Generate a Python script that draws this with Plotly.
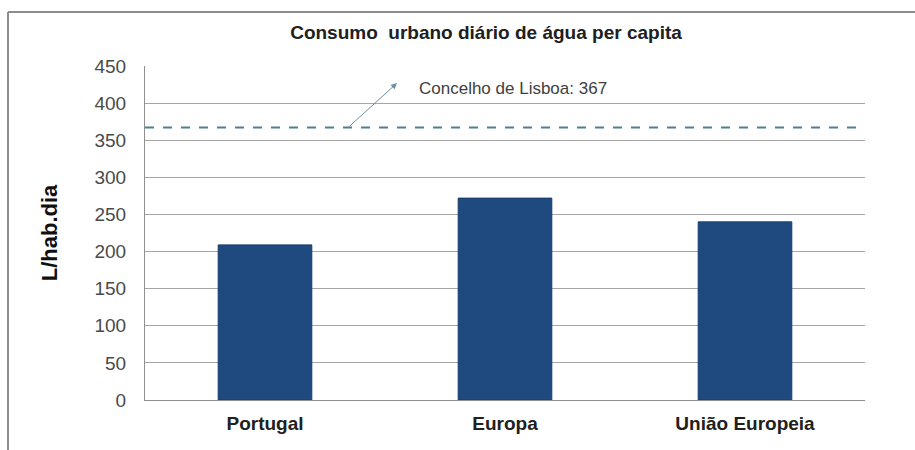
import plotly.graph_objects as go

# Daily urban water consumption per capita (L/hab.dia)
regioes = ["Portugal", "Europa", "União Europeia"]
consumo = [209, 272, 240]
lisboa = 367
y_ticks = [0, 50, 100, 150, 200, 250, 300, 350, 400, 450]

fig = go.Figure()
fig.add_trace(go.Bar(
    x=regioes, y=consumo,
    marker=dict(color="#1f4a80", line=dict(color="#183c69", width=1)),
    width=0.39, showlegend=False, hoverinfo="x+y",
))

# Lisbon municipality reference line
fig.add_shape(type="line", xref="paper", yref="y", x0=0, x1=1, y0=lisboa, y1=lisboa,
              line=dict(color="#4f7f92", width=2, dash="dash"))

# Arrow pointing to the reference label
fig.add_annotation(xref="x domain", yref="y", x=0.35, y=427,
                   axref="x domain", ayref="y", ax=0.282, ay=lisboa,
                   text="", showarrow=True, arrowhead=2, arrowsize=1.2,
                   arrowwidth=1, arrowcolor="#6f8fa6")
fig.add_annotation(xref="paper", yref="y", x=0.378, y=420, xanchor="left", yanchor="middle",
                   text=f"Concelho de Lisboa: {lisboa}", showarrow=False,
                   font=dict(family="Liberation Sans, Arial", size=17, color="#404040"))

# Outer frame (top and left edges)
fig.add_shape(type="line", xref="paper", yref="paper",
              x0=(8 - 145) / 720, x1=(915 - 145) / 720, y0=(400 - 12) / 334, y1=(400 - 12) / 334,
              line=dict(color="#8c8c8c", width=2))
fig.add_shape(type="line", xref="paper", yref="paper",
              x0=(8 - 145) / 720, x1=(8 - 145) / 720, y0=(400 - 12) / 334, y1=-50 / 334,
              line=dict(color="#8c8c8c", width=2))

fig.update_layout(
    width=915, height=450,
    margin=dict(l=145, r=50, t=66, b=50),
    paper_bgcolor="white", plot_bgcolor="white",
    title=dict(text="<b>Consumo  urbano diário de água per capita</b>",
               x=(486) / 915, xanchor="center", y=1 - 32 / 450, yanchor="middle",
               font=dict(family="Liberation Sans, Arial", size=19, color="#202020")),
    bargap=0.61,
    font=dict(family="Liberation Sans, Arial", color="#404040"),
)
fig.update_xaxes(
    showline=True, linecolor="#909090", linewidth=1, showgrid=False,
    tickfont=dict(size=19, color="#202020", family="Liberation Sans, Arial"),
    tickprefix="<b>", ticksuffix="</b>", ticks="", fixedrange=True,
    ticklabelstandoff=6,
)
fig.update_yaxes(
    range=[0, 450], tickvals=y_ticks, ticktext=[str(v) for v in y_ticks],
    showgrid=True, gridcolor="#a6a6a6", gridwidth=1,
    showline=True, linecolor="#909090", linewidth=1, zeroline=False,
    tickfont=dict(size=19, color="#4a4a4a"), ticks="", ticklen=0,
    ticklabelstandoff=14,
    title=dict(text="<b>L/hab.dia</b>", font=dict(size=22, color="#101010"), standoff=30),
)

fig.write_html("out.html")
